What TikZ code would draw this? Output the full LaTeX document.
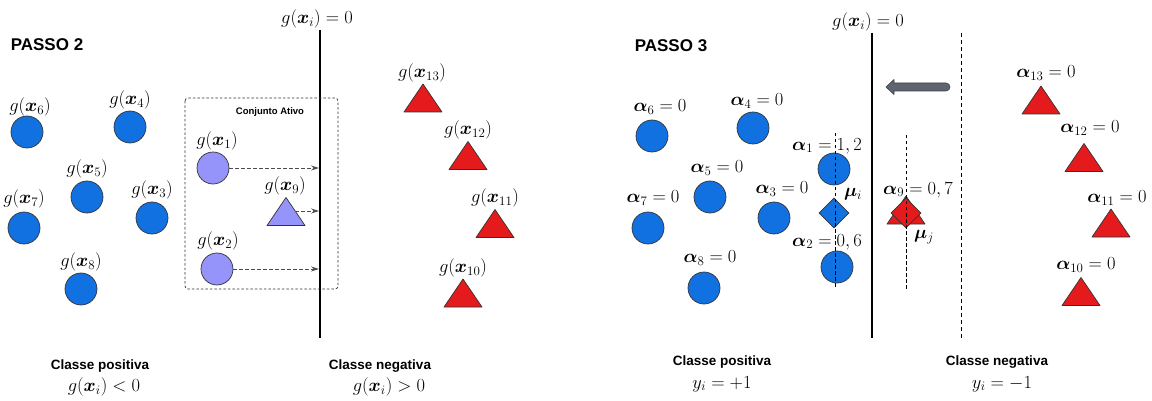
\RequirePackage{fix-cm}
\documentclass[tikz,border=0pt]{standalone}
\usepackage{amsmath,bm}
\usepackage{fontspec}
\setsansfont{Liberation Sans}
\usetikzlibrary{arrows.meta,shapes.geometric}

\definecolor{ptblue}{HTML}{1271E0}
\definecolor{ptlav}{HTML}{9494FA}
\definecolor{ptred}{HTML}{E41A1C}
\definecolor{ptgray}{HTML}{5E6570}

\tikzset{
  pt/.style={circle, draw=black!80, line width=0.7pt, minimum size=32pt, inner sep=0pt},
  bluept/.style={pt, fill=ptblue},
  lavpt/.style={pt, fill=ptlav},
  tri/.style={draw=black!80, line width=0.7pt, line join=round},
  dia/.style={diamond, draw=black!80, line width=0.7pt, minimum width=30pt, minimum height=30pt, inner sep=0pt},
  lbl/.style={font=\fontsize{18.5}{20}\selectfont, inner sep=0pt},
  head/.style={font=\sffamily\bfseries\fontsize{17}{20}\selectfont, inner sep=0pt},
  cls/.style={font=\sffamily\bfseries\fontsize{13.5}{16}\selectfont, inner sep=0pt},
  small/.style={font=\sffamily\bfseries\fontsize{9.5}{11}\selectfont, inner sep=0pt},
  sep/.style={line width=1.1pt},
  sepdash/.style={line width=1pt, dash pattern=on 4pt off 3pt},
  guide/.style={line width=0.8pt, dash pattern=on 3.5pt off 2.5pt},
  flow/.style={line width=0.8pt, draw=black!70, dash pattern=on 3.5pt off 2.5pt,
               -{Stealth[length=8pt,width=5pt]}},
  box/.style={draw=black!80, line width=0.7pt, dash pattern=on 2.5pt off 2pt, rounded corners=3pt},
}

% isosceles triangle centred on a named coordinate
\newcommand\ptri[2]{%
  \draw[tri, fill=#2, shift={(#1)}] (-19,14) -- (19,14) -- (0,-14) -- cycle;}

\begin{document}
\begin{tikzpicture}[x=1pt, y=-1pt]
\useasboundingbox (0,0) rectangle (1152,401);

%% ---------------- PASSO 2 ----------------
\node[head] (p2) at (47,45) {PASSO 2};

% separating hyperplane
\coordinate (h1t) at (320,30);
\coordinate (h1b) at (320,338);
\draw[sep] (h1t) -- (h1b);
\node[lbl] (h1l) at (317,19) {$g(\bm{x}_i) = 0$};

% active set
\draw[box] (185,98) rectangle (338,289);
\node[small] (ca) at (270,112) {Conjunto Ativo};

% positive points
\node[bluept] (c6) at (27,132) {};
\node[lbl] (g6) at (30,107) {$g(\bm{x}_6)$};
\node[bluept] (c4) at (130,127) {};
\node[lbl] (g4) at (130,100) {$g(\bm{x}_4)$};
\node[bluept] (c5) at (87,197) {};
\node[lbl] (g5) at (87,169) {$g(\bm{x}_5)$};
\node[bluept] (c7) at (24,228) {};
\node[lbl] (g7) at (24,199) {$g(\bm{x}_7)$};
\node[bluept] (c3) at (152,218) {};
\node[lbl] (g3) at (152,190) {$g(\bm{x}_3)$};
\node[bluept] (c8) at (81,289) {};
\node[lbl] (g8) at (81,262) {$g(\bm{x}_8)$};

% points in the active set
\node[lavpt] (c1) at (213,168) {};
\node[lbl] (g1) at (217,141) {$g(\bm{x}_1)$};
\node[lavpt] (c2) at (217,269) {};
\node[lbl] (g2) at (218,241) {$g(\bm{x}_2)$};
\coordinate (t9) at (286,211.5);
\ptri{t9}{ptlav}
\node[lbl] (g9) at (285,186) {$g(\bm{x}_9)$};
\coordinate (t9e) at (295,211);

% projections onto the hyperplane
\coordinate (e1) at (319,168);
\coordinate (e9) at (319,211);
\coordinate (e2) at (319,269);
\draw[flow] (c1.east) -- (e1);
\draw[flow] (t9e) -- (e9);
\draw[flow] (c2.east) -- (e2);

% negative points
\coordinate (l13) at (423,98);
\ptri{l13}{ptred}
\node[lbl] (g13) at (422,73) {$g(\bm{x}_{13})$};
\coordinate (l12) at (468,155.5);
\ptri{l12}{ptred}
\node[lbl] (g12) at (468,130) {$g(\bm{x}_{12})$};
\coordinate (l11) at (495,223.5);
\ptri{l11}{ptred}
\node[lbl] (g11) at (495,198) {$g(\bm{x}_{11})$};
\coordinate (l10) at (463,293);
\ptri{l10}{ptred}
\node[lbl] (g10) at (463,268) {$g(\bm{x}_{10})$};

% class captions
\node[cls] (cp1) at (100,366) {Classe positiva};
\node[lbl] (cp1m) at (104,387) {$g(\bm{x}_i) < 0$};
\node[cls] (cn1) at (380,366) {Classe negativa};
\node[lbl] (cn1m) at (389,387) {$g(\bm{x}_i) > 0$};

%% ---------------- PASSO 3 ----------------
\node[head] (p3) at (671,46) {PASSO 3};

\coordinate (h2t) at (872,33);
\coordinate (h2b) at (872,338);
\draw[sep] (h2t) -- (h2b);
\node[lbl] (h2l) at (868,22) {$g(\bm{x}_i) = 0$};
\coordinate (m2t) at (961,33);
\coordinate (m2b) at (961,338);
\draw[sepdash] (m2t) -- (m2b);

% shift of the margin
\filldraw[fill=ptgray, draw=black!75, line width=0.6pt, line join=round]
  (946,83) -- (894,83) -- (894,79.5) -- (886,87) -- (894,94.5) -- (894,91) -- (946,91)
  arc[start angle=90, end angle=-90, radius=4] -- cycle;

% positive points
\node[bluept] (a6) at (652,136) {};
\node[lbl] (la6) at (660,107) {$\bm{\alpha}_6 = 0$};
\node[bluept] (a4) at (753,128) {};
\node[lbl] (la4) at (757,101) {$\bm{\alpha}_4 = 0$};
\node[bluept] (a5) at (710,197) {};
\node[lbl] (la5) at (717,168) {$\bm{\alpha}_5 = 0$};
\node[bluept] (a7) at (648,228) {};
\node[lbl] (la7) at (653,198) {$\bm{\alpha}_7 = 0$};
\node[bluept] (a3) at (774,218) {};
\node[lbl] (la3) at (782,189) {$\bm{\alpha}_3 = 0$};
\node[bluept] (a8) at (704,288) {};
\node[lbl] (la8) at (710,258) {$\bm{\alpha}_8 = 0$};

% support vectors of the positive class and their mean
\node[bluept] (a1) at (834,169) {};
\node[bluept] (a2) at (837,267) {};
\node[dia, fill=ptblue] (mui) at (834,213) {};
\coordinate (gi1) at (835,133);
\coordinate (gi2) at (835,288);
\draw[guide] (gi1) -- (gi2);
\node[lbl] (la1) at (827,146) {$\bm{\alpha}_1 = 1,2$};
\node[lbl] (la2) at (827,242) {$\bm{\alpha}_2 = 0,6$};
\node[lbl] (lmui) at (853,194) {$\bm{\mu}_i$};

% support vector of the negative class and its mean
\coordinate (r9) at (906,210);
\ptri{r9}{ptred}
\node[dia, fill=ptred] (muj) at (906,213) {};
\coordinate (gj1) at (906,135);
\coordinate (gj2) at (906,290);
\draw[guide] (gj1) -- (gj2);
\node[lbl] (la9) at (918,190) {$\bm{\alpha}_9 = 0,7$};
\node[lbl] (lmuj) at (924,237) {$\bm{\mu}_j$};

% negative points
\coordinate (r13) at (1041,100);
\ptri{r13}{ptred}
\node[lbl] (la13) at (1046,73) {$\bm{\alpha}_{13} = 0$};
\coordinate (r12) at (1084,157.5);
\ptri{r12}{ptred}
\node[lbl] (la12) at (1090,128) {$\bm{\alpha}_{12} = 0$};
\coordinate (r11) at (1111,223);
\ptri{r11}{ptred}
\node[lbl] (la11) at (1117,198) {$\bm{\alpha}_{11} = 0$};
\coordinate (r10) at (1081,291.5);
\ptri{r10}{ptred}
\node[lbl] (la10) at (1086,265) {$\bm{\alpha}_{10} = 0$};

% class captions
\node[cls] (cp2) at (722,362) {Classe positiva};
\node[lbl] (cp2m) at (722,384) {$y_i = +1$};
\node[cls] (cn2) at (997,362) {Classe negativa};
\node[lbl] (cn2m) at (1002,384) {$y_i = -1$};
\end{tikzpicture}
\end{document}
